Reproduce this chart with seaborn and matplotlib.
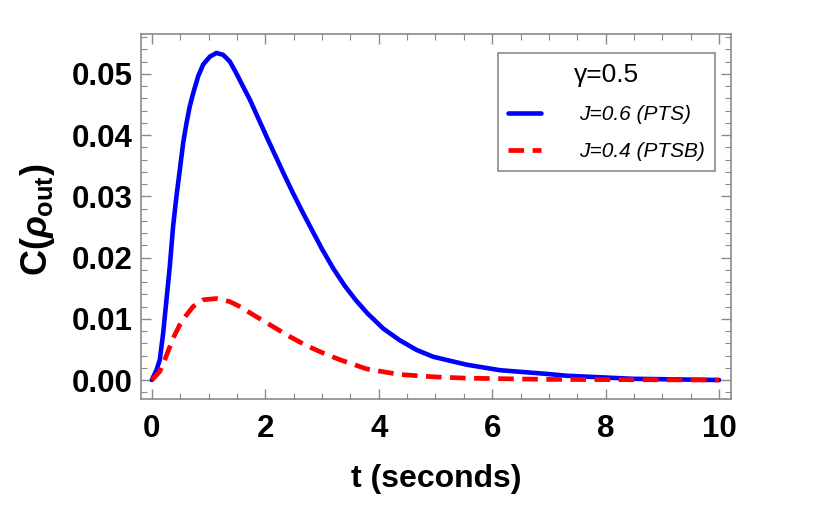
import numpy as np
import pandas as pd
import matplotlib
matplotlib.use('Agg')
import matplotlib.pyplot as plt
from matplotlib.ticker import MultipleLocator, FormatStrFormatter
import seaborn as sns

# values
t_pts = [0.0, 0.082, 0.141, 0.2, 0.259, 0.317, 0.376, 0.435, 0.494, 0.553, 0.611,
         0.67, 0.729, 0.817, 0.905, 1.023, 1.14, 1.258, 1.376, 1.49, 1.61, 1.728,
         1.85, 2.02, 2.2, 2.32, 2.49, 2.67, 2.84, 3.0, 3.2, 3.4, 3.6, 3.8, 4.08,
         4.37, 4.67, 4.96, 5.55, 6.14, 6.96, 7.31, 8.48, 10.0]
c_pts = [0.0, 0.0016, 0.0033, 0.0076, 0.0131, 0.0185, 0.0251, 0.0300, 0.0343,
         0.0387, 0.0419, 0.0447, 0.0468, 0.0496, 0.0515, 0.0528, 0.0534, 0.0531,
         0.0520, 0.0501, 0.0479, 0.0458, 0.0433, 0.0398, 0.0362, 0.0338, 0.0305,
         0.0272, 0.0242, 0.0214, 0.0182, 0.0154, 0.0130, 0.0109, 0.0084, 0.0065,
         0.0049, 0.0038, 0.0025, 0.0016, 0.0010, 0.0007, 0.0002, 0.0]

t_ptsb = [0.0, 0.053, 0.141, 0.229, 0.317, 0.406, 0.494, 0.611, 0.729, 0.905,
          1.14, 1.376, 1.55, 1.85, 2.14, 2.43, 2.73, 3.02, 3.32, 3.79, 4.37,
          5.0, 5.55, 7.0, 10.0]
c_ptsb = [0.0, 0.0005, 0.0014, 0.0033, 0.0054, 0.0074, 0.0090, 0.0106, 0.0120,
          0.0131, 0.0133, 0.0128, 0.0120, 0.0103, 0.0087, 0.0071, 0.0056, 0.0044,
          0.0033, 0.0018, 0.0009, 0.0005, 0.0003, 0.0001, 0.0]

lab_pts = 'J=0.6 (PTS)'
lab_ptsb = 'J=0.4 (PTSB)'

sns.set_style('ticks')
plt.rcParams['font.family'] = ['Liberation Sans', 'DejaVu Sans']
plt.rcParams['text.color'] = 'black'
plt.rcParams['axes.labelcolor'] = 'black'
plt.rcParams['xtick.labelcolor'] = 'black'
plt.rcParams['ytick.labelcolor'] = 'black'
plt.rcParams['mathtext.fontset'] = 'custom'
plt.rcParams['mathtext.rm'] = 'Liberation Sans:bold'
plt.rcParams['mathtext.it'] = 'Liberation Sans:bold:italic'
plt.rcParams['mathtext.bf'] = 'Liberation Sans:bold'

fig = plt.figure(figsize=(8.13, 5.21), dpi=100)
ax = fig.add_axes([141 / 813, 1 - 399 / 521, 590 / 813, 365 / 521])

df1 = pd.DataFrame({'t': t_pts, 'C': c_pts})
df2 = pd.DataFrame({'t': t_ptsb, 'C': c_ptsb})
sns.lineplot(data=df1, x='t', y='C', ax=ax, color='#0000ff', lw=3.3,
             label=lab_pts, solid_joinstyle='round')
sns.lineplot(data=df2, x='t', y='C', ax=ax, color='#ff0000', lw=3.4,
             label=lab_ptsb)
ax.lines[1].set_dashes((3.3, 1.8))
ax.lines[1].set_dash_capstyle('butt')

ax.set_xlim(-0.19, 10.21)
ax.set_ylim(-0.0031, 0.0565)
ax.xaxis.set_major_locator(MultipleLocator(2))
ax.xaxis.set_minor_locator(MultipleLocator(0.5))
ax.yaxis.set_major_locator(MultipleLocator(0.01))
ax.yaxis.set_minor_locator(MultipleLocator(0.002))
ax.yaxis.set_major_formatter(FormatStrFormatter('%.2f'))

gray = '#8a8a8a'
for s in ax.spines.values():
    s.set_color(gray)
    s.set_linewidth(1.2)
ax.tick_params(which='both', direction='in', top=True, right=True, color=gray)
ax.tick_params(which='major', length=7, width=1, labelsize=22.5)
ax.tick_params(axis='x', which='major', pad=11)
ax.tick_params(axis='y', which='major', pad=6)
ax.tick_params(which='minor', length=4, width=0.8)
for lb in ax.get_xticklabels() + ax.get_yticklabels():
    lb.set_fontweight('bold')

ax.set_xlabel('t (seconds)', fontsize=23, fontweight='bold')
ax.set_ylabel(r'C($\rho_{\rm out}$)', fontsize=26, fontweight='bold')
ax.xaxis.set_label_coords(0.5, -0.178)
ax.yaxis.set_label_coords(-0.143, 0.49)

leg = ax.legend(title='γ=0.5', loc='upper right', bbox_to_anchor=(0.973, 0.948),
                prop={'style': 'italic', 'size': 15}, title_fontsize=19,
                fancybox=False, framealpha=1, edgecolor=gray,
                handlelength=1.6, handletextpad=1.8, labelspacing=0.85,
                borderpad=0.5, borderaxespad=0)
leg.get_frame().set_linewidth(1.2)

fig.savefig('out.png', dpi=100)
